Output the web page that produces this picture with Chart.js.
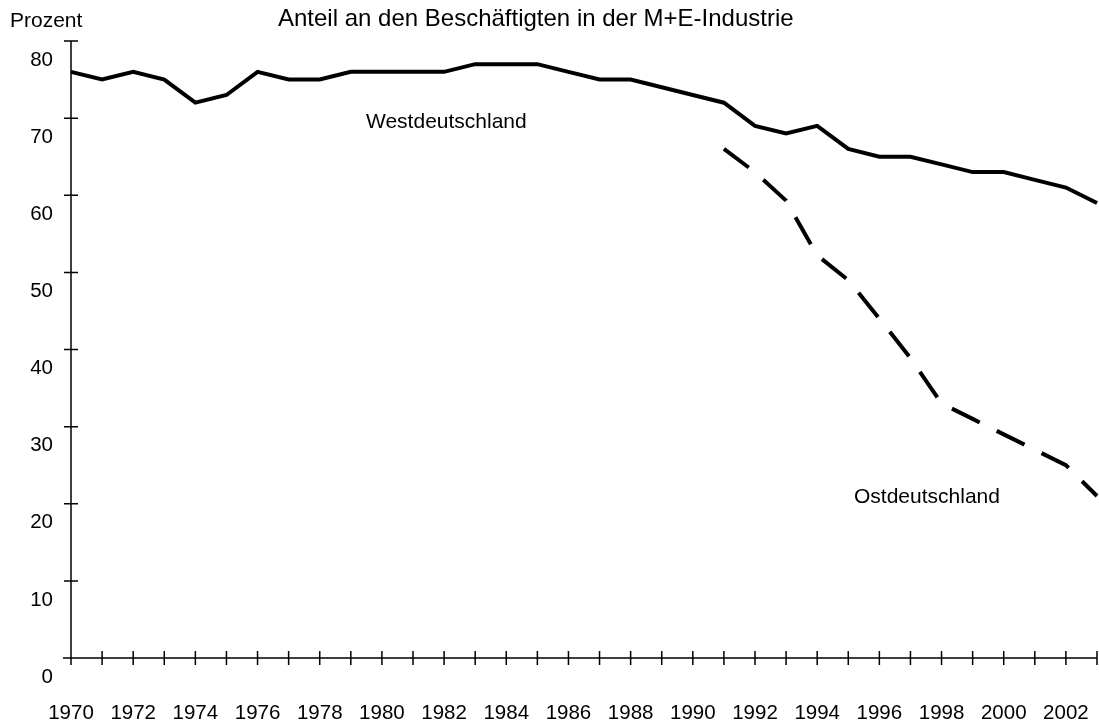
<!DOCTYPE html>
<html>
<head>
<meta charset="utf-8">
<script src="https://cdn.jsdelivr.net/npm/chart.js@4/dist/chart.umd.min.js"></script>
<style>
  html, body { margin: 0; padding: 0; background: #fff; }
  #wrap { width: 1099px; height: 720px; }
</style>
</head>
<body>
<div id="wrap"><canvas id="chart" width="1099" height="720"></canvas></div>
<script>
// Anteil an den Beschäftigten in der M+E-Industrie (Prozent)
const years = ["1970", "1971", "1972", "1973", "1974", "1975", "1976", "1977", "1978", "1979",
               "1980", "1981", "1982", "1983", "1984", "1985", "1986", "1987", "1988", "1989",
               "1990", "1991", "1992", "1993", "1994", "1995", "1996", "1997", "1998", "1999",
               "2000", "2001", "2002", "2003"];
const west = [76, 75, 76, 75, 72, 73, 76, 75, 75, 76,
              76, 76, 76, 77, 77, 77, 76, 75, 75, 74,
              73, 72, 69, 68, 69, 66, 65, 65, 64, 63,
              63, 62, 61, 59];
const east = [null, null, null, null, null, null, null, null, null, null,
              null, null, null, null, null, null, null, null, null, null,
              null, 66, 63, 59.3, 52.2, 49, 44, 38.9, 33, 31,
              29, 27, 25, 21];
const yTicks = [0, 10, 20, 30, 40, 50, 60, 70, 80];
const titleText = "Anteil an den Beschäftigten in der M+E-Industrie";
const yUnit = "Prozent";
const labelWest = "Westdeutschland";
const labelEast = "Ostdeutschland";

const FONT = "'Liberation Sans', Arial, sans-serif";

// axis lines with ticks crossing both sides
const axesPlugin = {
    id: "axes",
    beforeDatasetsDraw(chart) {
        const { ctx, scales: { x, y } } = chart;
        const x0 = x.getPixelForValue(0);
        const y0 = y.getPixelForValue(0);
        const xEnd = x.getPixelForValue(years.length - 1);
        ctx.save();
        ctx.strokeStyle = "#000";
        ctx.lineWidth = 1.5;
        ctx.beginPath();
        ctx.moveTo(x0, y.getPixelForValue(80));
        ctx.lineTo(x0, y0);
        ctx.moveTo(x0 - 8, y0);
        ctx.lineTo(xEnd, y0);
        yTicks.forEach(v => {
            const p = y.getPixelForValue(v);
            ctx.moveTo(x0 - 7, p);
            ctx.lineTo(x0 + 7, p);
        });
        years.forEach((_, i) => {
            const p = x.getPixelForValue(i);
            ctx.moveTo(p, y0 - 7);
            ctx.lineTo(p, y0 + 7);
        });
        ctx.stroke();
        ctx.restore();
    }
};

// title, unit and series names
const textPlugin = {
    id: "texts",
    afterDraw(chart) {
        const ctx = chart.ctx;
        ctx.save();
        ctx.fillStyle = "#000";
        ctx.textBaseline = "alphabetic";
        ctx.textAlign = "left";
        ctx.font = "24px " + FONT;
        ctx.fillText(titleText, 278, 26);
        ctx.font = "21px " + FONT;
        ctx.fillText(yUnit, 10, 27);
        ctx.fillText(labelWest, 366, 128);
        ctx.fillText(labelEast, 854, 503);
        ctx.restore();
    }
};

new Chart(document.getElementById("chart").getContext("2d"), {
    type: "line",
    data: {
        labels: years,
        datasets: [
            {
                label: labelWest,
                data: west,
                borderColor: "#000",
                borderWidth: 4,
                pointRadius: 0,
                tension: 0,
                fill: false
            },
            {
                label: labelEast,
                data: east,
                borderColor: "#000",
                borderWidth: 4,
                borderDash: [31, 19],
                borderCapStyle: "butt",
                pointRadius: 0,
                tension: 0,
                fill: false
            }
        ]
    },
    options: {
        responsive: false,
        animation: false,
        layout: { padding: { top: 41, right: 2, left: 0, bottom: 0 } },
        plugins: {
            legend: { display: false },
            tooltip: { enabled: false }
        },
        scales: {
            x: {
                type: "category",
                offset: false,
                grid: { display: false, drawTicks: false },
                border: { display: false },
                ticks: {
                    autoSkip: false,
                    maxRotation: 0,
                    minRotation: 0,
                    padding: 43,
                    color: "#000",
                    font: { family: FONT, size: 20.5 },
                    callback: (val, i) => (i % 2 === 0 ? years[i] : "")
                },
                afterFit: s => {
                    s.height = 62;
                    s.paddingLeft = 0;
                    s.paddingRight = 0;
                }
            },
            y: {
                min: 0,
                max: 80,
                grid: { display: false, drawTicks: false },
                border: { display: false },
                ticks: {
                    stepSize: 10,
                    padding: 18,
                    labelOffset: 19,
                    color: "#000",
                    font: { family: FONT, size: 20.5 }
                },
                afterFit: s => {
                    s.width = 71;
                    s.paddingTop = 0;
                    s.paddingBottom = 0;
                }
            }
        }
    },
    plugins: [axesPlugin, textPlugin]
});
</script>
</body>
</html>
